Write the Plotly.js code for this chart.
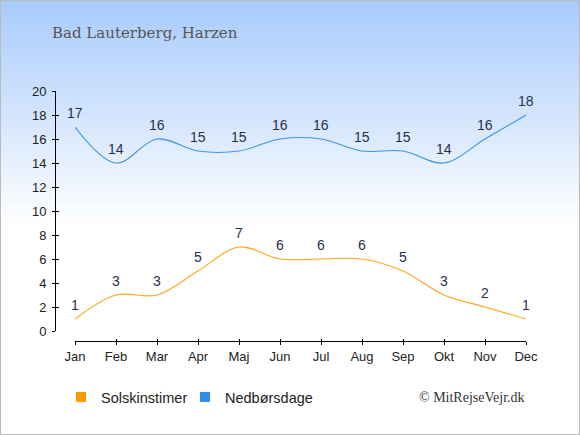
<!DOCTYPE html>
<html>
<head>
<meta charset="utf-8">
<script src="https://cdn.plot.ly/plotly-3.0.1.min.js"></script>
<style>
  html, body { margin: 0; padding: 0; }
  #wrap {
    width: 578px; height: 433px;
    border: 1px solid #bbbbbb;
    background: linear-gradient(to bottom, #a8cbfc 0%, #d6e6fd 28%, #ffffff 52%, #ffffff 100%);
  }
  #chart { width: 578px; height: 433px; }
</style>
</head>
<body>
<div id="wrap"><div id="chart"></div></div>
<script>
var months = ["Jan","Feb","Mar","Apr","Maj","Jun","Jul","Aug","Sep","Okt","Nov","Dec"];
var sunHours = [1,3,3,5,7,6,6,6,5,3,2,1];
var rainDays = [17,14,16,15,15,16,16,15,15,14,16,18];
var yTicks = [0,2,4,6,8,10,12,14,16,18,20];
var sunName = "Solskinstimer";
var rainName = "Nedbørsdage";
var sunColor = "#ffa31a";
var rainColor = "#3b95e6";

var idx = months.map(function(m, i){ return i; });

var L = 54, R = 53, T = 90, B = 93;
var W = 578, H = 433;
var plotW = W - L - R, plotH = H - T - B;
function px2x(px) { return (px - 1 - L) / plotW; }
function py2y(py) { return (H - B - (py - 1)) / plotH; }

var traces = [
  {x: idx, y: sunHours, type: "scatter", mode: "lines", line: {color: sunColor, width: 1.1, shape: "spline", smoothing: 1}, showlegend: false, hoverinfo: "skip"},
  {x: idx, y: rainDays, type: "scatter", mode: "lines", line: {color: rainColor, width: 1.1, shape: "spline", smoothing: 1}, showlegend: false, hoverinfo: "skip"},
  {x: [null], y: [null], type: "scatter", mode: "markers", name: sunName, marker: {symbol: "square", size: 10, color: "#ff9900"}},
  {x: [null], y: [null], type: "scatter", mode: "markers", name: rainName, marker: {symbol: "square", size: 10, color: "#2b8fe8"}},
  {x: [null], y: [null], type: "scatter", mode: "markers", name: " ", marker: {symbol: "square", size: 1, opacity: 0, color: "rgba(0,0,0,0)"}},
  {x: [null], y: [null], xaxis: "x2", yaxis: "y2", type: "scatter", mode: "markers", showlegend: false, hoverinfo: "skip"}
];

var annotations = [];
function addLabels(vals) {
  vals.forEach(function(v, i){
    annotations.push({x: i, y: v, xref: "x", yref: "y", text: String(v), showarrow: false,
      yshift: 14, yanchor: "middle", font: {family: "Liberation Sans, Arial, sans-serif", size: 14, color: "#1f2f4f"}});
  });
}
addLabels(sunHours);
addLabels(rainDays);

annotations.push({text: "Bad Lauterberg, Harzen", xref: "paper", yref: "paper", x: px2x(50), y: py2y(33),
  xanchor: "left", yanchor: "middle", showarrow: false, font: {family: "DejaVu Serif, Georgia, serif", size: 15, color: "#555555"}});
annotations.push({text: "© MitRejseVejr.dk", xref: "paper", yref: "paper", x: px2x(527), y: py2y(397),
  xanchor: "right", yanchor: "middle", showarrow: false, font: {family: "Liberation Serif, Times New Roman, serif", size: 14, color: "#333333"}});

var tickFont = {family: "Liberation Sans, Arial, sans-serif", size: 13, color: "#222222"};

var layout = {
  width: W, height: H,
  margin: {l: L, r: R, t: T, b: B, pad: 0},
  paper_bgcolor: "rgba(0,0,0,0)",
  plot_bgcolor: "rgba(0,0,0,0)",
  showlegend: true,
  legend: {orientation: "h", xref: "container", yref: "container", x: 60/W, y: 1 - 396/H,
    xanchor: "left", yanchor: "middle", font: {family: "Liberation Sans, Arial, sans-serif", size: 14.5, color: "#222222"},
    bgcolor: "rgba(0,0,0,0)", itemwidth: 30, entrywidth: 79, entrywidthmode: "pixels"},
  xaxis: {domain: [20/plotW, 1], range: [0, 11], anchor: "free", position: 0,
    tickmode: "array", tickvals: idx, ticktext: months, ticks: "outside", ticklen: 3, tickcolor: "#000",
    showline: true, linecolor: "#000", linewidth: 1, showgrid: false, zeroline: false, tickfont: tickFont, fixedrange: true},
  xaxis2: {domain: [20/plotW, 1], range: [0, 11], overlaying: "x", anchor: "free", position: 0,
    tickmode: "array", tickvals: idx, ticks: "inside", ticklen: 2, tickcolor: "#000", showticklabels: false,
    showline: false, showgrid: false, zeroline: false},
  yaxis: {domain: [10/plotH, 1], range: [0, 20], anchor: "free", position: 0,
    tickmode: "array", tickvals: yTicks, ticks: "outside", ticklen: 3, tickcolor: "#000", ticklabelstandoff: 3,
    showline: true, linecolor: "#000", linewidth: 1, showgrid: false, zeroline: false, tickfont: tickFont, fixedrange: true},
  yaxis2: {domain: [10/plotH, 1], range: [0, 20], overlaying: "y", anchor: "free", position: 0,
    tickmode: "array", tickvals: yTicks, ticks: "inside", ticklen: 3, tickcolor: "#000", showticklabels: false,
    showline: false, showgrid: false, zeroline: false},
  annotations: annotations
};

Plotly.newPlot("chart", traces, layout, {displayModeBar: false, staticPlot: true});
</script>
</body>
</html>
